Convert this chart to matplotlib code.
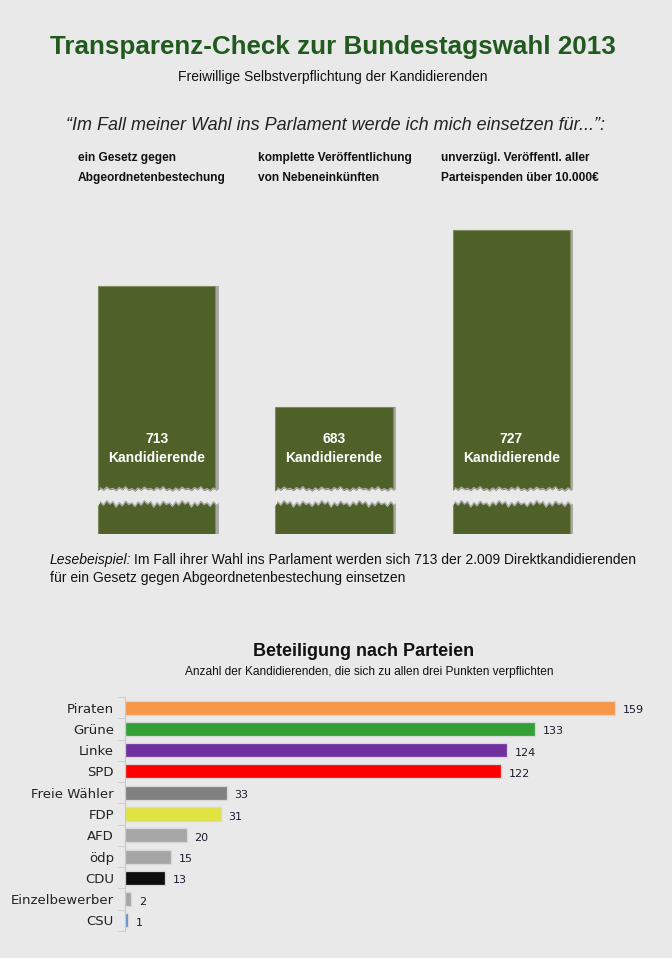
import matplotlib.pyplot as plt
import numpy as np

# top chart data
pledges = ["ein Gesetz gegen\nAbgeordnetenbestechung",
           "komplette Veröffentlichung\nvon Nebeneinkünften",
           "unverzügl. Veröffentl. aller\nParteispenden über 10.000€"]
pledge_counts = [713, 683, 727]

# party chart data
parties = ["Piraten", "Grüne", "Linke", "SPD", "Freie Wähler", "FDP", "AFD",
           "ödp", "CDU", "Einzelbewerber", "CSU"]
party_counts = [159, 133, 124, 122, 33, 31, 20, 15, 13, 2, 1]
party_colors = ["#f79646", "#33a036", "#7030a0", "#ff0000", "#808080", "#e0e340",
                "#a6a6a6", "#a6a6a6", "#0d0d0d", "#a6a6a6", "#5b8fcf"]

BG = "#e9e9e9"
BAR = "#4f6128"
W, H = 672, 958

plt.rcParams['font.family'] = ['Liberation Sans', 'DejaVu Sans']

fig = plt.figure(figsize=(W / 100, H / 100), dpi=100, facecolor=BG)


def px_axes(x0, y0, x1, y1):
    # axes from pixel box (top-left origin)
    return fig.add_axes([x0 / W, 1 - y1 / H, (x1 - x0) / W, (y1 - y0) / H])


def ftext(x, y, s, **kw):
    return fig.text(x / W, 1 - y / H, s, **kw)


ftext(333, 47, "Transparenz-Check zur Bundestagswahl 2013", ha="center", va="center",
      fontsize=18.7, fontweight="bold", color="#215a1f")
ftext(333, 77, "Freiwillige Selbstverpflichtung der Kandidierenden", ha="center",
      va="center", fontsize=10, color="#111111")
ftext(336, 125, "\u201cIm Fall meiner Wahl ins Parlament werde ich mich einsetzen für...\u201d:",
      ha="center", va="center", fontsize=13, style="italic", color="#222222")

head_x = [78, 258, 441]
for hx, txt in zip(head_x, pledges):
    ftext(hx, 168, txt, ha="left", va="center", fontsize=8.6, fontweight="bold",
          color="#111111", linespacing=1.95)

# broken-axis bar chart
x = np.arange(len(pledge_counts))
bw = 0.66
ax_top = px_axes(68, 222, 600, 492)
ax_bot = px_axes(68, 499, 600, 534)
for ax in (ax_top, ax_bot):
    ax.set_facecolor("none")
    ax.bar(x + 0.02, pledge_counts, width=bw, color="#a9a9a9", zorder=1)
    ax.bar(x, pledge_counts, width=bw, color=BAR, edgecolor="#7d8c5c",
           linewidth=0.8, zorder=2)
    ax.set_xlim(-0.5, 2.5)
    ax.axis("off")
ax_top.set_ylim(662, 729)
ax_bot.set_ylim(0, 10)

# torn edges
teeth = np.array([0.0, 0.7, 0.2, 0.9, 0.35, 0.6, 0.1, 0.8, 0.3, 1.0, 0.15, 0.55])
for xi in x:
    xs = np.linspace(xi - bw / 2 - 0.005, xi + bw / 2 + 0.025, 40)
    tt = np.resize(teeth, xs.size)
    yt = 662 + 1.0 * tt
    ax_top.fill_between(xs, 661, yt, color=BG, zorder=3)
    ax_top.plot(xs[1:-1], yt[1:-1] + 0.3, color="#aaaaaa", lw=1.0, zorder=3)
    yb = 10 - 1.8 * tt[::-1]
    ax_bot.fill_between(xs, yb, 10.5, color=BG, zorder=3, clip_on=False)
    ax_bot.plot(xs[1:-1], yb[1:-1] - 0.5, color="#aaaaaa", lw=1.0, zorder=3)

for xi, v in zip(x, pledge_counts):
    ax_top.text(xi, 672.8, f"{v}\nKandidierende", ha="center", va="center",
                color="white", fontsize=10, fontweight="bold", linespacing=1.45,
                zorder=4)

t1 = ftext(50, 560, "Lesebeispiel:", ha="left", va="center", fontsize=10,
           style="italic", color="#111111")
fig.canvas.draw()
bb = t1.get_window_extent()
ftext(bb.x1 + 3, 560, "Im Fall ihrer Wahl ins Parlament werden sich 713 der 2.009 Direktkandidierenden",
      ha="left", va="center", fontsize=10, color="#111111")
ftext(50, 578, "für ein Gesetz gegen Abgeordnetenbestechung einsetzen",
      ha="left", va="center", fontsize=10, color="#111111")

# party chart
ftext(364, 651, "Beteiligung nach Parteien", ha="center", va="center",
      fontsize=13, fontweight="bold", color="#111111")
ftext(369, 672, "Anzahl der Kandidierenden, die sich zu allen drei Punkten verpflichten",
      ha="center", va="center", fontsize=8.6, color="#111111")

ax2 = px_axes(125, 697, 640, 931)
ax2.set_facecolor("none")
yy = np.arange(len(parties))
ax2.barh(yy, party_counts, height=0.66, color=party_colors,
         edgecolor="#d8d8d8", linewidth=0.9)
ax2.set_ylim(len(parties) - 0.5, -0.5)
ax2.set_xlim(0, 167)
for yi, v in zip(yy, party_counts):
    ax2.text(v + 2.5, yi + 0.12, str(v), ha="left", va="center", fontsize=8,
             color="#1a1a2e", family="DejaVu Sans")
ax2.set_yticks(yy)
ax2.set_yticklabels(parties, family="DejaVu Sans", fontsize=9.5, color="#222222")
ax2.set_yticks(np.arange(len(parties) + 1) - 0.5, minor=True)
ax2.tick_params(axis="y", which="major", length=0, pad=8)
ax2.tick_params(axis="y", which="minor", length=5, color="#c8c8c8")
ax2.set_xticks([])
for s in ("top", "right", "bottom"):
    ax2.spines[s].set_visible(False)
ax2.spines["left"].set_color("#c8c8c8")

fig.savefig("out.png", dpi=100, facecolor=BG)
